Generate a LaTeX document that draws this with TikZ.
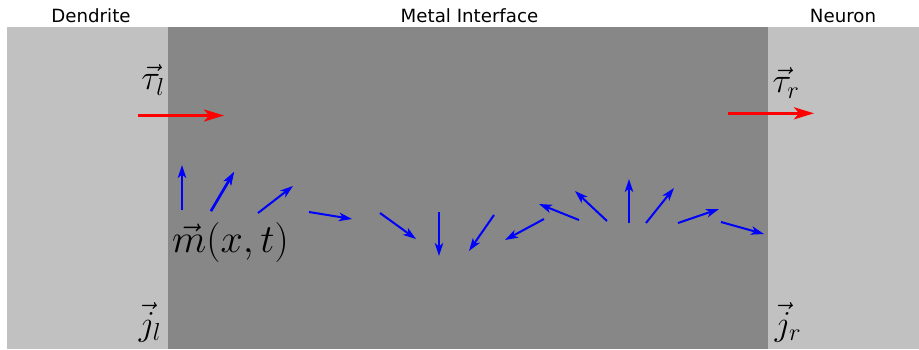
\documentclass[tikz,border=0pt]{standalone}
\usepackage{fix-cm}
\usepackage{fontspec}
\setmainfont{DejaVu Sans}
\usetikzlibrary{arrows.meta}
\definecolor{layerlight}{RGB}{192,193,192}
\definecolor{layerdark}{RGB}{134,135,134}
\tikzset{
  region/.style={fill=#1, draw=none},
  toplabel/.style={anchor=base, inner sep=0pt, font=\fontsize{18.2}{21}\selectfont},
  mathlabel/.style={inner sep=0pt, font=\fontsize{35}{40}\selectfont},
  spin/.style={draw=blue, line width=2pt, -{Stealth[length=13pt,width=8.5pt,inset=3.5pt]}},
  torque/.style={draw=red, line width=3pt, -{Stealth[length=20pt,width=12pt,inset=5pt]}}
}
\begin{document}
\begin{tikzpicture}[x=1pt, y=-1pt]
  \useasboundingbox (0,0) rectangle (919,349);
  % layers: dendrite | metal | neuron
  \fill[region=layerlight] (7,27) rectangle (919,349);
  \fill[region=layerdark] (168,27) rectangle (768,349);

  % headings
  \node[toplabel] (dendrite) at (91,22.5) {Dendrite};
  \node[toplabel] (metal) at (469.5,22.3) {Metal Interface};
  \node[toplabel] (neuron) at (843,22.3) {Neuron};

  % spin torques
  \node[mathlabel] (taul) at (153,80) {$\vec\tau_l$};
  \node[mathlabel] (taur) at (786,83) {$\vec\tau_r$};
  \coordinate (tlA) at (138,115.5);
  \coordinate (tlB) at (224,115.5);
  \coordinate (trA) at (728,113.3);
  \coordinate (trB) at (814,113.3);
  \draw[torque] (tlA) -- (tlB);
  \draw[torque] (trA) -- (trB);

  % spin currents
  \node[mathlabel] (jl) at (150,322) {$\vec j_l$};
  \node[mathlabel] (jr) at (788,322) {$\vec j_r$};

  % magnetisation profile
  \node[mathlabel, anchor=base west, font=\fontsize{40}{45}\selectfont] (mag) at (172,252) {$\vec m(x,t)$};
  \foreach \i/\xa/\ya/\xb/\yb in {
      1/182/210/182/165,
      2/211/211/234/172,
      3/258/213/293/186,
      4/309/212/352/219,
      5/380/213/416/239,
      6/439/212/439/256,
      7/494/215/469/251,
      8/544/219/505/240,
      9/579/220/539/204,
      10/607/221/575/191,
      11/629/223/629/179,
      12/646/223/674/188,
      13/678/223/719/209,
      14/721/222/764/234} {
    \coordinate (m\i a) at (\xa,\ya);
    \coordinate (m\i b) at (\xb,\yb);
    \draw[spin] (m\i a) -- (m\i b);
  }
  \draw[spin, line width=2.6pt] (m2a) -- (m2b);
\end{tikzpicture}
\end{document}
